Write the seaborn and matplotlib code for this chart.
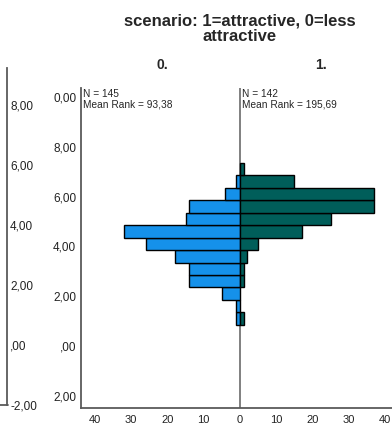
import matplotlib
matplotlib.use("Agg")
import matplotlib.pyplot as plt
import seaborn as sns
import pandas as pd
from matplotlib.lines import Line2D

# ---- data ----
bin_centers = [7.1, 6.6, 6.1, 5.6, 5.1, 4.6, 4.1, 3.6, 3.1, 2.6, 2.1, 1.6, 1.1]
counts_0 = [0, 1, 4, 14, 15, 32, 26, 18, 14, 14, 5, 1, 1]
counts_1 = [1, 15, 37, 37, 25, 17, 5, 2, 1, 1, 0, 0, 1]
group_labels = ["0.", "1."]
n_labels = ["N = 145\nMean Rank = 93,38", "N = 142\nMean Rank = 195,69"]
title = "scenario: 1=attractive, 0=less\nattractive"
inner_ticks = [10, 8, 6, 4, 2, 0, -2]
inner_tick_labels = ["0,00", "8,00", "6,00", "4,00", "2,00", ",00", "2,00"]
outer_ticks = [8, 6, 4, 2, 0, -2]
outer_tick_labels = ["8,00", "6,00", "4,00", "2,00", ",00", "-2,00"]
x_ticks = [-40, -30, -20, -10, 0, 10, 20, 30, 40]
x_tick_labels = ["40", "30", "20", "10", "0", "10", "20", "30", "40"]

BLUE = "#1591EA"
TEAL = "#005E5A"
AXC = "#5a5a5a"

sns.set_style("white")
plt.rcParams['font.family'] = ['Liberation Sans', 'DejaVu Sans']

W, H = 392, 428
fig = plt.figure(figsize=(W / 100, H / 100), dpi=100)


def fx(px):
    return px / W


def fy(py):
    return 1 - py / H


# ---- inner (pyramid) axes ----
ax = fig.add_axes([fx(81), fy(408), fx(392) - fx(81), fy(88) - fy(408)])

df0 = pd.DataFrame({"value": bin_centers, "count": [-c for c in counts_0]})
df0 = df0[df0["count"] != 0]
df1 = pd.DataFrame({"value": bin_centers, "count": counts_1})
df1 = df1[df1["count"] != 0]

for df, col in [(df0, BLUE), (df1, TEAL)]:
    sns.barplot(data=df, x="count", y="value", orient="y", native_scale=True,
                color=col, saturation=1, edgecolor="black", linewidth=1.0,
                width=1.0, errorbar=None, ax=ax, zorder=2)

ax.axvline(0, color="#808080", lw=1.4, zorder=1)
ax.set_xlim(-43.86, 41.93)
ax.set_ylim(-2.49, 10.36)
ax.set_xlabel("")
ax.set_ylabel("")
ax.set_xticks(x_ticks)
ax.set_xticklabels(x_tick_labels)
ax.set_yticks(inner_ticks)
ax.set_yticklabels(inner_tick_labels)
ax.tick_params(axis="y", length=0, pad=3.5, labelsize=8.5, colors="#222222")
ax.tick_params(axis="x", length=0, pad=5, labelsize=8, colors="#222222")
for s in ["top", "right"]:
    ax.spines[s].set_visible(False)
for s in ["left", "bottom"]:
    ax.spines[s].set_color(AXC)
    ax.spines[s].set_linewidth(1.3)
ax.grid(False)

# ---- outer (left) axis ----
ax2 = fig.add_axes([fx(7), fy(405), fx(8) - fx(7), fy(68) - fy(405)])
ax2.set_ylim(-2.0, 9.23)
ax2.set_xticks([])
ax2.set_yticks(outer_ticks)
ax2.set_yticklabels(outer_tick_labels)
ax2.tick_params(axis="y", left=False, right=True, labelleft=False,
                labelright=True, length=0, pad=1.5, labelsize=8.5,
                colors="#222222")
for s in ["top", "right", "bottom"]:
    ax2.spines[s].set_visible(False)
ax2.spines["left"].set_color(AXC)
ax2.spines["left"].set_linewidth(1.3)
ax2.patch.set_alpha(0)
fig.add_artist(Line2D([0, fx(7.5)], [fy(405), fy(405)], color=AXC, lw=1.3))

# ---- texts ----
fig.text(fx(240), fy(14), title, ha="center", va="top", fontsize=12,
         fontweight="bold", linespacing=1.0)
fig.text(fx(162), fy(65), group_labels[0], ha="center", va="center",
         fontsize=10, fontweight="bold")
fig.text(fx(321), fy(65), group_labels[1], ha="center", va="center",
         fontsize=10, fontweight="bold")
fig.text(fx(83), fy(89), n_labels[0], ha="left", va="top", fontsize=7.3,
         linespacing=1.1)
fig.text(fx(242), fy(89), n_labels[1], ha="left", va="top", fontsize=7.3,
         linespacing=1.1)

fig.savefig("out.png", dpi=100)
